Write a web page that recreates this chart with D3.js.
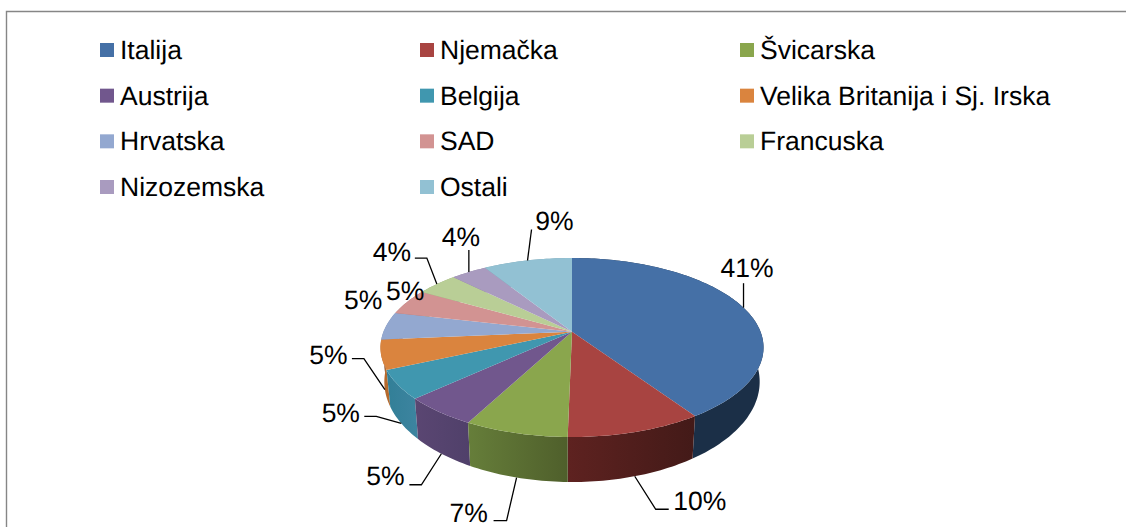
<!DOCTYPE html>
<html>
<head>
<meta charset="utf-8">
<script src="https://cdn.jsdelivr.net/npm/d3@7"></script>
<style>
html,body{margin:0;padding:0;background:#fff}
svg{display:block}
text{font-family:"Liberation Sans",Arial,sans-serif;font-size:26.5px;fill:#000;text-rendering:geometricPrecision}
</style>
</head>
<body>
<svg id="chart" width="1126" height="527"></svg>
<script>
const categories = ["Italija","Njemačka","Švicarska","Austrija","Belgija","Velika Britanija i Sj. Irska","Hrvatska","SAD","Francuska","Nizozemska","Ostali"];
const shares = [40.6,9.7,7.4,5.4,5.2,5.3,5.0,4.7,4.2,3.6,8.9];
const topColors = ["#4570a6","#a84441","#8aa64d","#71578d","#4097af","#da843e","#93a8d0","#d29392","#b9ce96","#a99bbf","#92c1d3"];
const wallLeft  = ["#1b2f47","#5e2220","#667e3a","#5a4672","#327f97","#b5692c","#7a8cae","#ae7a79","#9aab7c","#8c81a0","#79a0af"];
const wallRight = ["#1b2f47","#431a18","#4f5f2b","#50406a","#3d84a0","#b5692c","#7a8cae","#ae7a79","#9aab7c","#8c81a0","#79a0af"];

// label layout relative to the slice's rim anchor: [elbow, end, text centre] or null parts
const labelLayout = [
  {from:"top",    pts:[[0,-24.5]],            text:[3.5,-40]},
  {from:"bottom", pts:[[21,33],[34,33]],      text:[65,24]},
  {from:"bottom", pts:[[-10,43],[-23,43]],    text:[-48,35]},
  {from:"bottom", pts:[[-20,31],[-32,31]],    text:[-56,22]},
  {from:"bottom", pts:[[-25,-7],[-37,-7]],    text:[-60.5,-11]},
  {from:"bottom", pts:[[-21,-31],[-33,-31]],  text:[-56.5,-35]},
  {from:"none",   pts:[],                     text:[-23,-26]},
  {from:"none",   pts:[],                     text:[-2,-11]},
  {from:"top",    pts:[[-10,-26],[-22,-26]],  text:[-45,-33]},
  {from:"top",    pts:[[0,-22]],              text:[-8,-36]},
  {from:"top",    pts:[[4,-31]],              text:[27,-40]}
];

const svg = d3.select("#chart");
const defs = svg.append("defs");

// frame
svg.append("path").attr("d","M6.5,527V11.5H1126").attr("fill","none").attr("stroke","#868686").attr("stroke-width",1.4);

// legend
const legendCol = d3.scaleLinear().domain([0,2]).range([100,740]);
const legendRow = d3.scaleLinear().domain([0,3]).range([43,180]);
const legend = svg.append("g").selectAll("g").data(categories).join("g")
  .attr("transform",(d,i)=>`translate(${legendCol(i%3)},${legendRow(Math.floor(i/3))})`);
legend.append("rect").attr("width",14).attr("height",14).attr("fill",(d,i)=>topColors[i]);
legend.append("text").attr("x",20).attr("y",16).text(d=>d);

// perspective projection of the unit disc
const k = 0.1766;
const sx = d3.scaleLinear().domain([-1,1]).range([572-188.5,572+188.5]);
const sy = d3.scaleLinear().domain([-1,1]).range([331.7-86.7,331.7+86.7]);
function project(theta, r=1){
  const X = r*Math.sin(theta), Y = -r*Math.cos(theta), s = 1/(1-k*Y);
  return [sx(X*s), sy(Y*s)];
}
function extrude(p){
  return [572+(p[0]-572)*0.98, p[1]+45+(p[1]-437)*0.12];
}
function rim(a0,a1){
  const n = Math.max(2,Math.ceil((a1-a0)/0.02));
  return d3.range(n+1).map(i=>project(a0+(a1-a0)*i/n));
}
const closed = d3.line().curve(d3.curveLinearClosed);

const pie = d3.pie().sort(null)(shares);

// walls, back to front
const wallOrder = d3.range(pie.length).sort((a,b)=>
  project((pie[a].startAngle+pie[a].endAngle)/2)[1]-project((pie[b].startAngle+pie[b].endAngle)/2)[1]);
const walls = svg.append("g");
wallOrder.forEach(i=>{
  const g = defs.append("linearGradient").attr("id","w"+i);
  g.append("stop").attr("offset",0).attr("stop-color",wallLeft[i]);
  g.append("stop").attr("offset",1).attr("stop-color",wallRight[i]);
  const t = rim(pie[i].startAngle,pie[i].endAngle);
  walls.append("path").attr("d",closed(t.concat(t.map(extrude).reverse())))
    .attr("fill",(i===1||i===2||i===3||i===4)?`url(#w${i})`:wallLeft[i]);
});

// top faces
svg.append("g").selectAll("path").data(pie).join("path")
  .attr("d",d=>closed([project(0,0)].concat(rim(d.startAngle,d.endAngle))))
  .attr("fill",(d,i)=>topColors[i]);

// leaders and labels
const fmt = d3.format(".0f");
const total = d3.sum(shares);
const labels = svg.append("g");
pie.forEach((d,i)=>{
  const top = project((d.startAngle+d.endAngle)/2);
  const L = labelLayout[i];
  const a = L.from==="bottom" ? extrude(top) : top;
  if(L.from!=="none"){
    labels.append("path")
      .attr("d",d3.line()([a].concat(L.pts.map(p=>[a[0]+p[0],a[1]+p[1]]))))
      .attr("fill","none").attr("stroke","#000").attr("stroke-width",1.3);
  }
  labels.append("text")
    .attr("x",a[0]+L.text[0]).attr("y",a[1]+L.text[1]+9.5)
    .attr("text-anchor","middle")
    .text(fmt(shares[i]/total*100)+"%");
});
</script>
</body>
</html>
